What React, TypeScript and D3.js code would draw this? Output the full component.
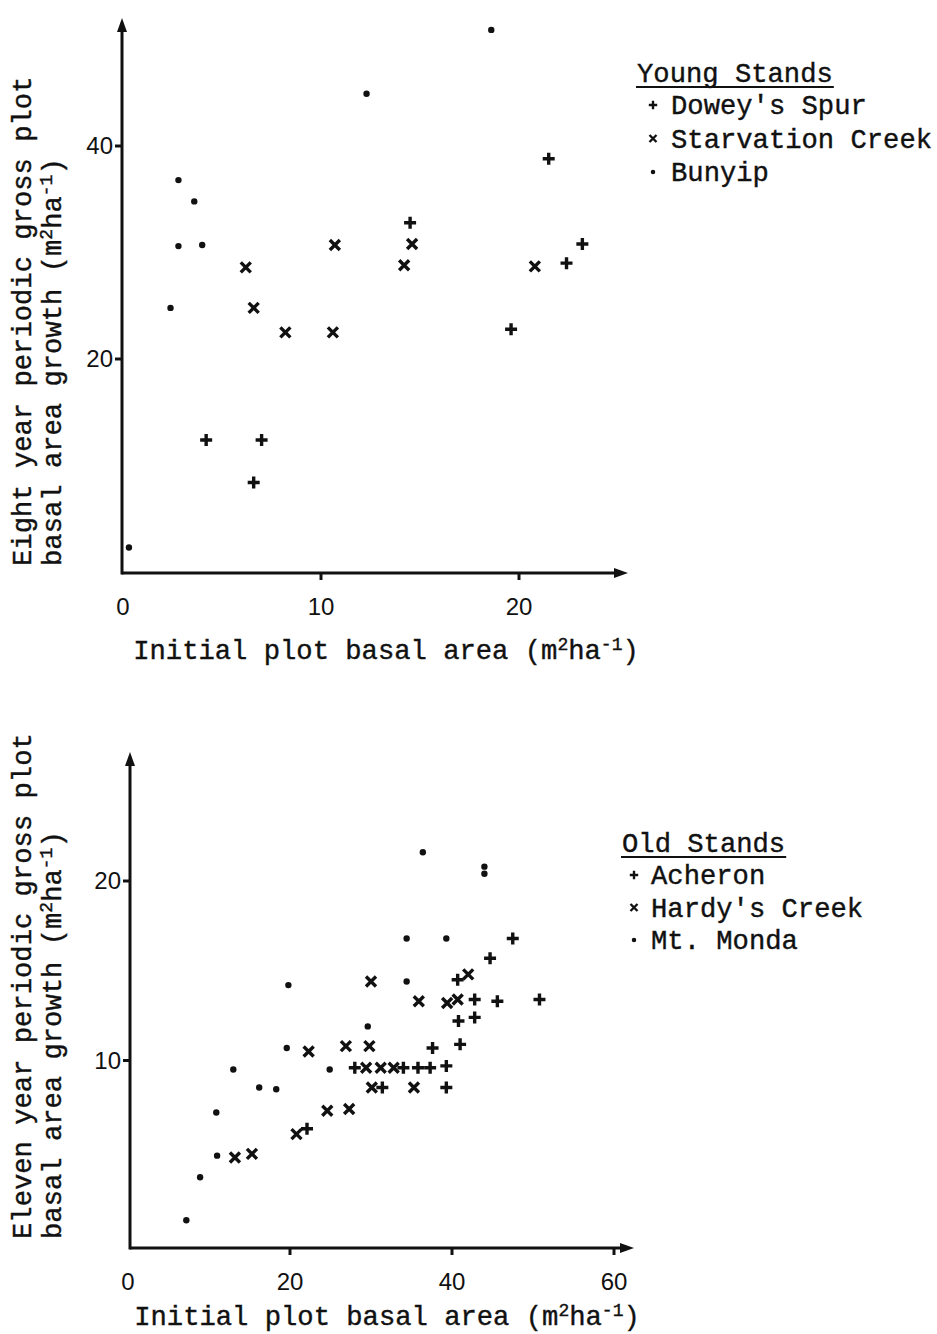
import React from "react";
import * as d3 from "d3";

// ---------- Young stands (top chart) ----------
const doweysSpur: [number, number][] = [
  [4.2, 12.4], [7.0, 12.4], [6.6, 8.4], [14.5, 32.8], [21.5, 38.8], [23.2, 30.8], [22.4, 29.0], [19.6, 22.8],
];
const starvationCreek: [number, number][] = [
  [6.2, 28.6], [10.7, 30.7], [6.6, 24.8], [8.2, 22.5], [10.6, 22.5], [14.6, 30.8], [14.2, 28.8], [20.8, 28.7],
];
const bunyip: [number, number][] = [
  [12.3, 44.9], [2.8, 36.8], [3.6, 34.8], [2.8, 30.6], [4.0, 30.7], [18.6, 50.9], [2.4, 24.8], [0.3, 2.3],
];

// ---------- Old stands (bottom chart) ----------
const acheron: [number, number][] = [
  [22.1, 6.2], [28.0, 9.6], [31.4, 8.5], [34.0, 9.6], [35.8, 9.6], [37.3, 9.6], [39.3, 9.7], [39.3, 8.5],
  [37.6, 10.7], [41.0, 10.9], [40.8, 12.2], [42.8, 12.4], [42.8, 13.4], [45.6, 13.3], [50.8, 13.4],
  [40.7, 14.5], [44.7, 15.7], [47.5, 16.8],
];
const hardysCreek: [number, number][] = [
  [13.2, 4.6], [15.3, 4.8], [20.8, 5.9], [24.6, 7.2], [27.3, 7.3], [30.1, 8.5], [35.3, 8.5], [29.4, 9.6],
  [31.2, 9.6], [32.8, 9.6], [22.3, 10.5], [26.9, 10.8], [29.8, 10.8], [30.0, 14.4], [35.9, 13.3],
  [39.4, 13.2], [40.7, 13.4], [42.0, 14.8],
];
const mtMonda: [number, number][] = [
  [7.2, 1.1], [8.9, 3.5], [11.0, 4.7], [10.9, 7.1], [13.0, 9.5], [16.2, 8.5], [18.3, 8.4], [19.6, 10.7],
  [19.8, 14.2], [24.9, 9.5], [29.6, 11.9], [34.4, 14.4], [34.4, 16.8], [39.3, 16.8], [36.4, 21.6],
  [44.0, 20.8], [44.0, 20.4],
];

const topXTicks = [0, 10, 20];
const topYTicks = [20, 40];
const botXTicks = [0, 20, 40, 60];
const botYTicks = [10, 20];

const topLegendTitle = "Young Stands";
const topLegend = ["Dowey's Spur", "Starvation Creek", "Bunyip"];
const botLegendTitle = "Old Stands";
const botLegend = ["Acheron", "Hardy's Creek", "Mt. Monda"];

const topYTitle = "Eight year periodic gross plot";
const botYTitle = "Eleven year periodic gross plot";

const MONO = "'Liberation Mono', 'Courier New', monospace";
const SANS = "'Liberation Sans', Arial, sans-serif";
const INK = "#111";
const FS = 27.2;
const monoStyle = { fontFamily: MONO, fontSize: FS, fill: INK, stroke: INK, strokeWidth: 0.4 } as const;

type Shape = "plus" | "cross" | "dot";

function Marker({ x, y, shape, s = 1 }: { x: number; y: number; shape: Shape; s?: number }) {
  if (shape === "plus") {
    const r = 6 * s;
    return (
      <path d={`M${x - r},${y}H${x + r}M${x},${y - r}V${y + r}`} stroke={INK} strokeWidth={3.4 * s} />
    );
  }
  if (shape === "cross") {
    const r = 5 * s;
    return (
      <path
        d={`M${x - r},${y - r}L${x + r},${y + r}M${x - r},${y + r}L${x + r},${y - r}`}
        stroke={INK}
        strokeWidth={3.4 * s}
      />
    );
  }
  return <circle cx={x} cy={y} r={3.2 * s} fill={INK} />;
}

function Units() {
  return (
    <>
      <tspan>(m</tspan>
      <tspan fontSize="18" dy="-9">2</tspan>
      <tspan dy="9">ha</tspan>
      <tspan fontSize="18" dy="-9">-1</tspan>
      <tspan dy="9">)</tspan>
    </>
  );
}

type PanelProps = {
  x: d3.ScaleLinear<number, number>;
  y: d3.ScaleLinear<number, number>;
  axisY: number;
  axisX: number;
  xEnd: number;
  yTop: number;
  xTicks: number[];
  yTicks: number[];
  series: { data: [number, number][]; shape: Shape }[];
  xTitleX: number;
  xTitleY: number;
  yTitle: string;
  yTitleBottom: number;
  legendX: number;
  legendTextX: number;
  legendTitleY: number;
  legendTitle: string;
  legend: string[];
  legendTitleX: number;
  legendStep: number;
};

function Panel(p: PanelProps) {
  const shapes: Shape[] = ["plus", "cross", "dot"];
  return (
    <g>
      {/* axes */}
      <line x1={p.axisX} y1={p.axisY} x2={p.xEnd - 6} y2={p.axisY} stroke={INK} strokeWidth={3} />
      <path d={`M${p.xEnd},${p.axisY}L${p.xEnd - 14},${p.axisY - 5}L${p.xEnd - 14},${p.axisY + 5}Z`} fill={INK} />
      <line x1={p.axisX} y1={p.axisY + 1.5} x2={p.axisX} y2={p.yTop + 6} stroke={INK} strokeWidth={3} />
      <path d={`M${p.axisX},${p.yTop}L${p.axisX - 5},${p.yTop + 14}L${p.axisX + 5},${p.yTop + 14}Z`} fill={INK} />
      {/* x ticks */}
      {p.xTicks.map((t) => (
        <g key={"xt" + t}>
          {t !== 0 && (
            <line x1={p.x(t)} x2={p.x(t)} y1={p.axisY} y2={p.axisY + 7} stroke={INK} strokeWidth={3} />
          )}
          <text x={p.x(t)} y={p.axisY + 42} fontFamily={SANS} fontSize={24} textAnchor="middle" fill={INK}>
            {t}
          </text>
        </g>
      ))}
      {/* y ticks */}
      {p.yTicks.map((t) => (
        <g key={"yt" + t}>
          <line x1={p.axisX - 7} x2={p.axisX} y1={p.y(t)} y2={p.y(t)} stroke={INK} strokeWidth={3} />
          <text x={p.axisX - 9} y={p.y(t) + 8} fontFamily={SANS} fontSize={24} textAnchor="end" fill={INK}>
            {t}
          </text>
        </g>
      ))}
      {/* points */}
      {p.series.map((s, i) =>
        s.data.map((d, j) => <Marker key={`${i}-${j}`} x={p.x(d[0])} y={p.y(d[1])} shape={s.shape} />)
      )}
      {/* x title */}
      <text x={p.xTitleX} y={p.xTitleY} textAnchor="middle" {...monoStyle}>
        Initial plot basal area <Units />
      </text>
      {/* y title */}
      <text transform={`translate(31,${p.yTitleBottom}) rotate(-90)`} {...monoStyle}>
        {p.yTitle}
      </text>
      <text transform={`translate(61,${p.yTitleBottom}) rotate(-90)`} {...monoStyle}>
        basal area growth <Units />
      </text>
      {/* legend */}
      <text x={p.legendTitleX} y={p.legendTitleY} {...monoStyle}>
        {p.legendTitle}
      </text>
      <line
        x1={p.legendTitleX - 1}
        x2={p.legendTitleX + p.legendTitle.length * FS * 0.6 + 1}
        y1={p.legendTitleY + 5}
        y2={p.legendTitleY + 5}
        stroke={INK}
        strokeWidth={2}
      />
      {p.legend.map((name, i) => (
        <g key={name}>
          <Marker x={p.legendX} y={p.legendTitleY + 23 + i * p.legendStep} shape={shapes[i]} s={0.7} />
          <text x={p.legendTextX} y={p.legendTitleY + 32 + i * p.legendStep} {...monoStyle}>
            {name}
          </text>
        </g>
      ))}
    </g>
  );
}

export default function App() {
  const xTop = d3.scaleLinear().domain([0, 20]).range([123, 519]);
  const yTop = d3.scaleLinear().domain([0, 40]).range([572, 146]);
  const xBot = d3.scaleLinear().domain([0, 60]).range([128, 614]);
  const yBot = d3.scaleLinear().domain([0, 20]).range([1240, 881]);

  return (
    <svg width={937} height={1334} style={{ position: "absolute", left: 0, top: 0, background: "#fff" }}>
      <rect width={937} height={1334} fill="#fff" />
      <Panel
        x={xTop}
        y={yTop}
        axisY={573}
        axisX={122}
        xEnd={628}
        yTop={18}
        xTicks={topXTicks}
        yTicks={topYTicks}
        series={[
          { data: doweysSpur, shape: "plus" },
          { data: starvationCreek, shape: "cross" },
          { data: bunyip, shape: "dot" },
        ]}
        xTitleX={386}
        xTitleY={659}
        yTitle={topYTitle}
        yTitleBottom={566}
        legendX={653}
        legendTextX={671}
        legendTitleX={637}
        legendTitleY={82}
        legendStep={33.5}
        legendTitle={topLegendTitle}
        legend={topLegend}
      />
      <Panel
        x={xBot}
        y={yBot}
        axisY={1248}
        axisX={130}
        xEnd={634}
        yTop={752}
        xTicks={botXTicks}
        yTicks={botYTicks}
        series={[
          { data: acheron, shape: "plus" },
          { data: hardysCreek, shape: "cross" },
          { data: mtMonda, shape: "dot" },
        ]}
        xTitleX={387}
        xTitleY={1325}
        yTitle={botYTitle}
        yTitleBottom={1239}
        legendX={634}
        legendTextX={651}
        legendTitleX={622}
        legendTitleY={852}
        legendStep={32.5}
        legendTitle={botLegendTitle}
        legend={botLegend}
      />
    </svg>
  );
}
